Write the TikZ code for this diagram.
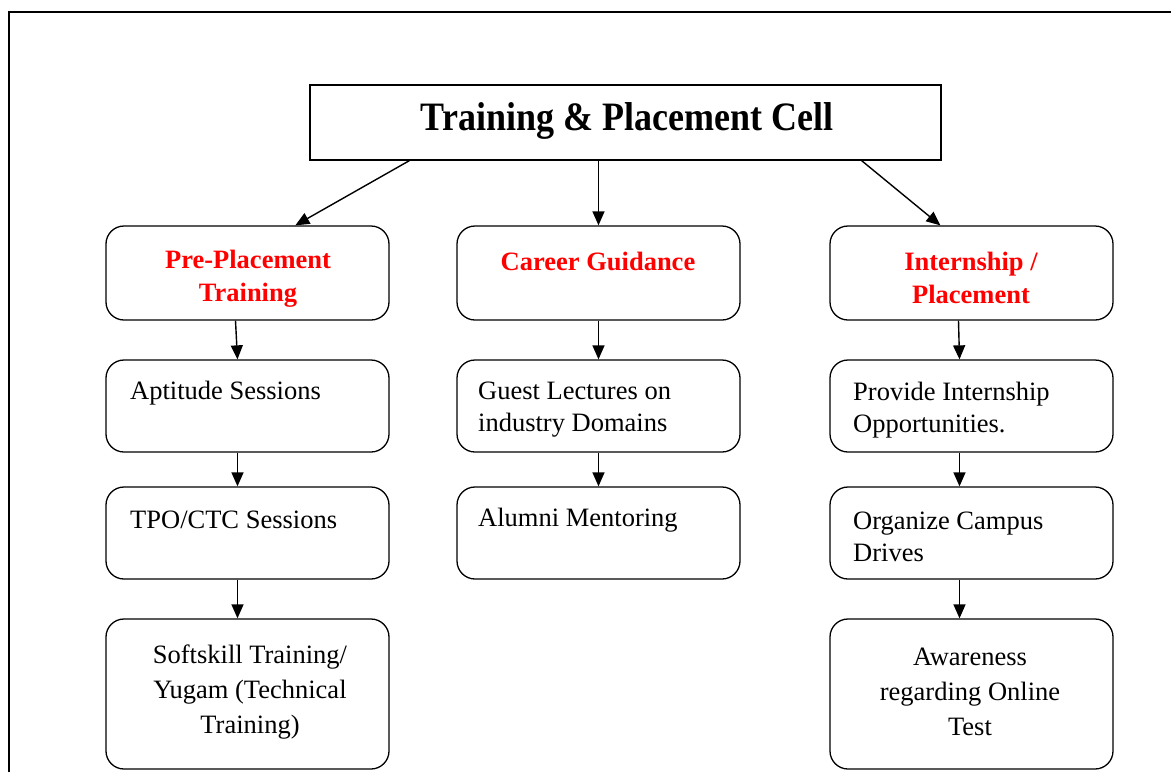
\documentclass[tikz,border=0pt]{standalone}
\usepackage{fontspec}
\setmainfont{Liberation Serif}
\usetikzlibrary{arrows.meta}
\definecolor{hdred}{RGB}{255,0,0}
\begin{document}
\begin{tikzpicture}[x=1pt,y=-1pt,
  rbox/.style={draw, line width=1.3pt, rounded corners=18pt, minimum width=283pt, inner sep=0pt},
  tbox/.style={draw, line width=1.3pt, minimum width=631pt, minimum height=75pt, inner sep=0pt},
  hd/.style={text=hdred, font=\fontsize{26.5}{33}\selectfont\bfseries, align=center, inner sep=0pt},
  bt/.style={font=\fontsize{26.5}{32}\selectfont, align=left, inner sep=0pt, anchor=west},
  bc/.style={font=\fontsize{26.5}{35}\selectfont, align=center, inner sep=0pt},
  arr/.style={line width=1.4pt, -{Triangle[length=14pt,width=12pt]}}
]
\useasboundingbox (0,0) rectangle (1171,772);
\draw[line width=1.5pt] (9,772) -- (9,12) -- (1171,12);

\node[tbox] (title) at (625.5,122.5) {};
\node[font=\fontsize{36}{40}\selectfont\bfseries, inner sep=0pt, yscale=1.12] (titletxt) at (627,121) {Training \& Placement Cell};

% level 1
\node[rbox, minimum height=94pt] (pre) at (247.5,273) {};
\node[rbox, minimum height=94pt] (car) at (598.5,273) {};
\node[rbox, minimum height=94pt] (int) at (971.5,273) {};
\node[hd] (pretxt) at (248,279) {Pre-Placement\\Training};
\node[hd] (cartxt) at (598,261) {Career Guidance};
\node[hd] (inttxt) at (971,278) {Internship /\\Placement};

% level 2
\node[rbox, minimum height=92pt] (apt) at (247.5,406) {};
\node[rbox, minimum height=92pt] (gue) at (598.5,406) {};
\node[rbox, minimum height=92pt] (pro) at (971.5,406) {};
\node[bt] (apttxt) at (130,393) {Aptitude Sessions};
\node[bt] (guetxt) at (478,410) {Guest Lectures on\\industry Domains};
\node[bt] (protxt) at (853,410) {Provide Internship\\Opportunities.};

% level 3
\node[rbox, minimum height=92pt] (tpo) at (247.5,533) {};
\node[rbox, minimum height=92pt] (alu) at (598.5,533) {};
\node[rbox, minimum height=92pt] (org) at (971.5,533) {};
\node[bt] (tpotxt) at (130,520) {TPO/CTC Sessions};
\node[bt] (alutxt) at (478,520) {Alumni Mentoring};
\node[bt] (orgtxt) at (853,537) {Organize Campus\\Drives};

% level 4
\node[rbox, minimum height=150pt] (sof) at (247.5,694) {};
\node[rbox, minimum height=150pt] (awa) at (971.5,694) {};
\node[bc] (softxt) at (250,692) {Softskill Training/\\Yugam (Technical\\Training)};
\node[bc] (awatxt) at (970,692) {Awareness\\regarding Online\\Test};

% connectors
\draw[arr] ([xshift=100pt]title.south west) -- ([xshift=190pt]pre.north west);
\draw[arr] (title.south -| car.north) -- (car.north);
\draw[arr] ([xshift=-80pt]title.south east) -- ([xshift=111pt]int.north west);

\draw[arr] ([xshift=-12pt]pre.south) -- ([xshift=-10pt]apt.north);
\draw[arr] (car.south) -- (gue.north);
\draw[arr] ([xshift=-13pt]int.south) -- ([xshift=-12pt]pro.north);

\draw[arr] ([xshift=-10pt]apt.south) -- ([xshift=-10pt]tpo.north);
\draw[arr] (gue.south) -- (alu.north);
\draw[arr] ([xshift=-12pt]pro.south) -- ([xshift=-12pt]org.north);

\draw[arr] ([xshift=-10pt]tpo.south) -- ([xshift=-10pt]sof.north);
\draw[arr] ([xshift=-12pt]org.south) -- ([xshift=-12pt]awa.north);
\end{tikzpicture}
\end{document}
